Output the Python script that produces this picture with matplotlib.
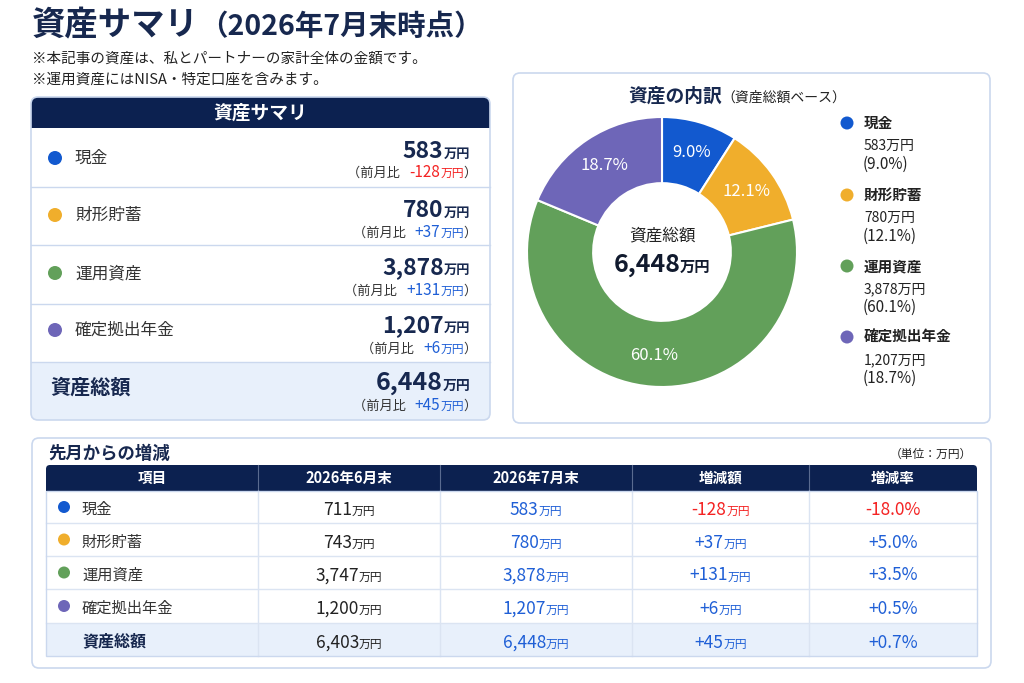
import matplotlib
matplotlib.use('Agg')
import matplotlib.pyplot as plt
from matplotlib.patches import FancyBboxPatch, Rectangle, Circle

plt.rcParams['font.family'] = ['Noto Sans CJK JP', 'DejaVu Sans']

# ---------------- data ----------------
categories = ['現金', '財形貯蓄', '運用資産', '確定拠出年金']
june = [711, 743, 3747, 1200]
july = [583, 780, 3878, 1207]
diff = [-128, 37, 131, 6]
rate = [-18.0, 5.0, 3.5, 0.5]
share = [9.0, 12.1, 60.1, 18.7]
total_label = '資産総額'
june_total = 6403
july_total = 6448
diff_total = 45
rate_total = 0.7
colors = ['#1259cf', '#f0ae2c', '#62a05a', '#6e66b8']

title_main = '資産サマリ'
title_date = '（2026年7月末時点）'
notes = ['※本記事の資産は、私とパートナーの家計全体の金額です。',
         '※運用資産にはNISA・特定口座を含みます。']
panel_title = '資産サマリ'
pie_title = '資産の内訳'
pie_subtitle = '（資産総額ベース）'
table_title = '先月からの増減'
unit_note = '（単位：万円）'
col_headers = ['項目', '2026年6月末', '2026年7月末', '増減額', '増減率']
unit = '万円'
mom = '（前月比'

NAVY = '#0c2150'
TITLE = '#17284f'
DARK = '#222222'
GRAY = '#333333'
BLUE = '#1f5fd6'
RED = '#f42323'
BORDER = '#cbd8ee'
LIGHT = '#e8f0fb'

fig = plt.figure(figsize=(10.24, 6.83), dpi=100)
fig.patch.set_facecolor('white')
ax = fig.add_axes([0, 0, 1, 1])
ax.set_xlim(0, 1024)
ax.set_ylim(683, 0)
ax.axis('off')
renderer = fig.canvas.get_renderer()


def rich(x, y, parts, ha='left'):
    texts, widths = [], []
    for s, sz, c, w in parts:
        t = ax.text(0, y, s, fontsize=sz, color=c, fontweight=w,
                    va='baseline', ha='left', zorder=10)
        widths.append(t.get_window_extent(renderer=renderer).width)
        texts.append(t)
    tot = sum(widths)
    x0 = x - tot if ha == 'right' else (x - tot / 2 if ha == 'center' else x)
    for t, w in zip(texts, widths):
        t.set_x(x0)
        x0 += w


def rbox(x0, y0, x1, y1, fc, ec='none', lw=1.0, r=7, z=1):
    p = FancyBboxPatch((x0, y0), x1 - x0, y1 - y0,
                       boxstyle=f'round,pad=0,rounding_size={r}',
                       fc=fc, ec=ec, lw=lw, zorder=z)
    ax.add_patch(p)


def sgn(v):
    return f'{v:+,}'


def vcol(v):
    return RED if v < 0 else BLUE


# ---------------- title ----------------
rich(32, 35, [(title_main, 24, TITLE, 'bold'), (title_date, 20.5, TITLE, 'bold')])
ax.text(32, 63, notes[0], fontsize=10.5, color=DARK, va='baseline')
ax.text(32, 84, notes[1], fontsize=10.5, color=DARK, va='baseline')

# ---------------- left panel ----------------
L0, L1 = 31, 490
top, hdr = 97, 128
row_edges = [128, 187, 245, 304, 362, 420]
rbox(L0, top, L1, row_edges[-1], 'white', z=1)
rbox(L0, row_edges[4], L1, row_edges[5], LIGHT, z=2)
ax.add_patch(Rectangle((L0, row_edges[4]), L1 - L0, 20, fc=LIGHT, ec='none', zorder=2))
rbox(L0, top, L1, hdr, NAVY, z=3)
ax.add_patch(Rectangle((L0, hdr - 12), L1 - L0, 12, fc=NAVY, ec='none', zorder=3))
ax.text((L0 + L1) / 2, 113, panel_title, fontsize=13.5, color='white',
        fontweight='bold', ha='center', va='center', zorder=10)
for ye in row_edges[1:5]:
    ax.plot([L0, L1], [ye, ye], color=BORDER, lw=1, zorder=4)
rbox(L0, top, L1, row_edges[-1], 'none', ec=BORDER, lw=1.2, z=5)

val_base = [158, 217, 274, 332]
sub_base = [177, 237, 295, 353]
lab_base = [163, 220, 278, 335]
dot_y = [158, 215, 273, 330]
for i, cat in enumerate(categories):
    ax.add_patch(Circle((55, dot_y[i]), 7, fc=colors[i], ec='none', zorder=6))
    ax.text(75, lab_base[i], cat, fontsize=12, color=GRAY, va='baseline', zorder=10)
    rich(470, val_base[i], [(f'{july[i]:,}', 16.5, TITLE, 'bold'),
                            (unit, 9.5, TITLE, 'bold')], ha='right')
    rich(477, sub_base[i], [(mom + '   ', 9.5, GRAY, 'normal'),
                            (sgn(diff[i]), 11, vcol(diff[i]), 'normal'),
                            (unit, 8.5, vcol(diff[i]), 'normal'),
                            ('）', 9.5, GRAY, 'normal')], ha='right')
ax.text(50, 394, total_label, fontsize=14.5, color=TITLE, fontweight='bold',
        va='baseline', zorder=10)
rich(470, 390, [(f'{july_total:,}', 18, TITLE, 'bold'), (unit, 10, TITLE, 'bold')], ha='right')
rich(477, 410, [(mom + '   ', 9.5, GRAY, 'normal'),
                (sgn(diff_total), 11, BLUE, 'normal'),
                (unit, 8.5, BLUE, 'normal'),
                ('）', 9.5, GRAY, 'normal')], ha='right')

# ---------------- right panel (donut) ----------------
rbox(513, 73, 990, 423, 'white', ec=BORDER, lw=1.2, z=1)
rich(628, 102, [(pie_title, 13.5, TITLE, 'bold'), (pie_subtitle, 10, DARK, 'normal')])

cx, cy, R = 662, 252, 135
half = 150
ax2 = fig.add_axes([(cx - half) / 1024, (683 - cy - half) / 683, 2 * half / 1024, 2 * half / 683])
wedges, texts = ax2.pie(july, colors=colors, startangle=90, counterclock=False, radius=1,
                        labels=[f'{s:.1f}%' for s in share], labeldistance=0.77,
                        wedgeprops=dict(width=0.49, edgecolor='white', linewidth=1.5),
                        textprops=dict(color='white', fontsize=12))
for t in texts:
    t.set_ha('center')
    t.set_va('center')
ax2.set_xlim(-half / R, half / R)
ax2.set_ylim(-half / R, half / R)
ax2.set_aspect('equal')
ax2.axis('off')

ax.text(cx, 240, total_label, fontsize=12, color=DARK, ha='center', va='baseline', zorder=10)
rich(cx, 272, [(f'{july_total:,}', 18, '#111a2e', 'bold'), (unit, 11, '#111a2e', 'bold')], ha='center')

leg_y = [123, 195, 266, 337]
for i, cat in enumerate(categories):
    y = leg_y[i]
    ax.add_patch(Circle((847, y), 6.5, fc=colors[i], ec='none', zorder=6))
    ax.text(864, y + 5, cat, fontsize=10.5, color=DARK, fontweight='bold', va='baseline')
    ax.text(864, y + 27, f'{july[i]:,}{unit}', fontsize=10, color=DARK, va='baseline')
    ax.text(863, y + 46, f'({share[i]:.1f}%)', fontsize=11, color=DARK, va='baseline')

# ---------------- bottom table ----------------
rbox(32, 438, 991, 668, 'white', ec=BORDER, lw=1.2, z=1)
ax.text(48, 459, table_title, fontsize=12.5, color=TITLE, fontweight='bold', va='baseline')
ax.text(972, 458, unit_note, fontsize=8.5, color=DARK, ha='right', va='baseline')

cols = [46, 258, 440, 632, 809, 977]
rows = [465, 491, 523, 556, 589, 623, 656]
T0, T1 = cols[0], cols[-1]
ax.add_patch(Rectangle((T0, rows[5]), T1 - T0, rows[6] - rows[5], fc=LIGHT, ec='none', zorder=2))
rbox(T0, rows[0], T1, rows[1], NAVY, r=4, z=3)
ax.add_patch(Rectangle((T0, rows[1] - 8), T1 - T0, 8, fc=NAVY, ec='none', zorder=3))
for ye in rows[2:6]:
    ax.plot([T0, T1], [ye, ye], color='#dbe4f2', lw=1, zorder=4)
for xe in cols[1:-1]:
    ax.plot([xe, xe], [rows[0], rows[1]], color='#5a6b90', lw=0.8, zorder=4)
    ax.plot([xe, xe], [rows[1], rows[6]], color='#dbe4f2', lw=1, zorder=4)
ax.add_patch(Rectangle((T0, rows[1]), T1 - T0, rows[6] - rows[1], fc='none', ec=BORDER, lw=1, zorder=5))

ccent = [(cols[k] + cols[k + 1]) / 2 for k in range(5)]
for k, h in enumerate(col_headers):
    ax.text(ccent[k], 483, h, fontsize=10.5, color='white', fontweight='bold',
            ha='center', va='baseline', zorder=10)

base = [(rows[k] + rows[k + 1]) / 2 + 8 for k in range(1, 6)]
for i, cat in enumerate(categories):
    b = base[i]
    ax.add_patch(Circle((64, b - 8), 6, fc=colors[i], ec='none', zorder=6))
    ax.text(82, b - 1, cat, fontsize=11, color=GRAY, va='baseline', zorder=10)
    rich(ccent[1], b, [(f'{june[i]:,}', 12.5, DARK, 'normal'), (unit, 8.5, DARK, 'normal')], ha='center')
    rich(ccent[2], b, [(f'{july[i]:,}', 12.5, BLUE, 'normal'), (unit, 8.5, BLUE, 'normal')], ha='center')
    c = vcol(diff[i])
    rich(ccent[3], b, [(sgn(diff[i]), 12.5, c, 'normal'), (unit, 8.5, c, 'normal')], ha='center')
    ax.text(ccent[4], b, f'{rate[i]:+.1f}%', fontsize=12.5, color=vcol(rate[i]),
            ha='center', va='baseline', zorder=10)
b = base[4]
ax.text(82, b - 1, total_label, fontsize=11.5, color=TITLE, fontweight='bold', va='baseline', zorder=10)
rich(ccent[1], b, [(f'{june_total:,}', 12.5, DARK, 'normal'), (unit, 8.5, DARK, 'normal')], ha='center')
rich(ccent[2], b, [(f'{july_total:,}', 12.5, BLUE, 'normal'), (unit, 8.5, BLUE, 'normal')], ha='center')
rich(ccent[3], b, [(sgn(diff_total), 12.5, BLUE, 'normal'), (unit, 8.5, BLUE, 'normal')], ha='center')
ax.text(ccent[4], b, f'{rate_total:+.1f}%', fontsize=12.5, color=BLUE,
        ha='center', va='baseline', zorder=10)

fig.savefig('out.png', dpi=100, facecolor='white')
